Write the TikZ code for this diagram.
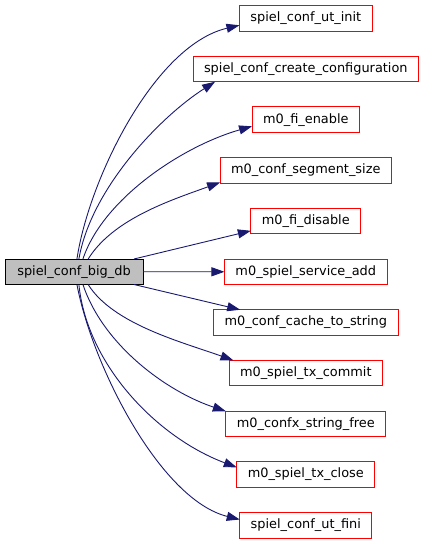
\documentclass[tikz,border=0pt]{standalone}
\usepackage{fontspec}
\setmainfont{DejaVu Sans}
\usetikzlibrary{arrows.meta,positioning}
\definecolor{edgeblue}{HTML}{191970}
\definecolor{rootgray}{HTML}{BFBFBF}

\begin{document}
\begin{tikzpicture}[
    x=1pt,y=-1pt,
    font=\fontsize{12.9}{15}\selectfont,
    func/.style={draw,line width=1pt,minimum height=25.5pt,inner xsep=11pt,
      inner ysep=0pt,outer sep=0pt},
    caller/.style={func,fill=rootgray,draw=black,minimum width=138pt},
    callee/.style={func,draw=red},
    call/.style={-{Triangle[length=13pt,width=9pt]},edgeblue,line width=0.9pt}
  ]
    \useasboundingbox (0,0) rectangle (425,544);
    \node[caller] (bigdb) at (74,271.75) {spiel\_conf\_big\_db};
    \foreach \fn [count=\i] in {spiel\_conf\_ut\_init,
        spiel\_conf\_create\_configuration,m0\_fi\_enable,
        m0\_conf\_segment\_size,m0\_fi\_disable,m0\_spiel\_service\_add,
        m0\_conf\_cache\_to\_string,m0\_spiel\_tx\_commit,
        m0\_confx\_string\_free,m0\_spiel\_tx\_close,spiel\_conf\_ut\_fini}
      \node[callee] (f\i) at (305.8,{18.3+50.7*(\i-1)}) {\fn};

    % upper calls
    \draw[call] (bigdb.77) .. controls +(12,-80) and +(-85,20) .. (f1.186);
    \draw[call] (bigdb.69) .. controls +(12,-70) and +(-55,35) .. (f2.188);
    \draw[call] (bigdb.55) .. controls +(20,-60) and +(-70,20) .. (f3.187);
    \draw[call] (bigdb.42) .. controls +(25,-40) and +(-50,18) .. (f4.188.5);
    \draw[call] (bigdb.12) -- (f5.190);
    \draw[call] (bigdb.east) -- (f6.west);
    % lower calls
    \draw[call] (bigdb.-12) -- (f7.169);
    \draw[call] (bigdb.-42) .. controls +(25,40) and +(-50,-18) .. (f8.170);
    \draw[call] (bigdb.-55) .. controls +(20,60) and +(-60,-20) .. (f9.171.5);
    \draw[call] (bigdb.-69) .. controls +(8,80) and +(-80,-30) .. (f10.174);
    \draw[call] (bigdb.-77) .. controls +(15,80) and +(-80,-20) .. (f11.175);
\end{tikzpicture}
\end{document}
